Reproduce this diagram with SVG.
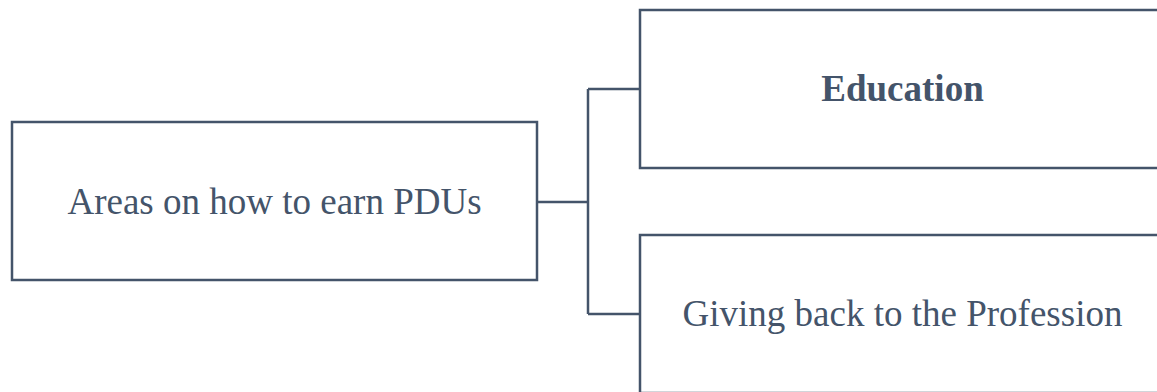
<svg xmlns="http://www.w3.org/2000/svg" width="1157" height="392" viewBox="0 0 1157 392">
<style>
.box{fill:#ffffff;stroke:#44546A;stroke-width:2.5}
.lbl{font-family:"Liberation Serif","Times New Roman",serif;font-size:37px;fill:#44546A;text-anchor:middle}
.conn{fill:none;stroke:#44546A;stroke-width:2.5}
</style>
<rect width="1157" height="392" fill="#ffffff"/>
<g id="connectors">
<path class="conn" d="M537,202 H588 M588,89 V314 M588,89 H640 M588,314 H640"/>
</g>
<g id="node-root">
<rect class="box" x="12" y="122" width="525" height="158"/>
<text class="lbl" x="274.5" y="214">Areas on how to earn PDUs</text>
</g>
<g id="node-education">
<rect class="box" x="640" y="10" width="525" height="158"/>
<text class="lbl" x="902.5" y="101" font-weight="bold">Education</text>
</g>
<g id="node-giving">
<rect class="box" x="640" y="235" width="525" height="158"/>
<text class="lbl" x="902.5" y="326">Giving back to the Profession</text>
</g>
</svg>
